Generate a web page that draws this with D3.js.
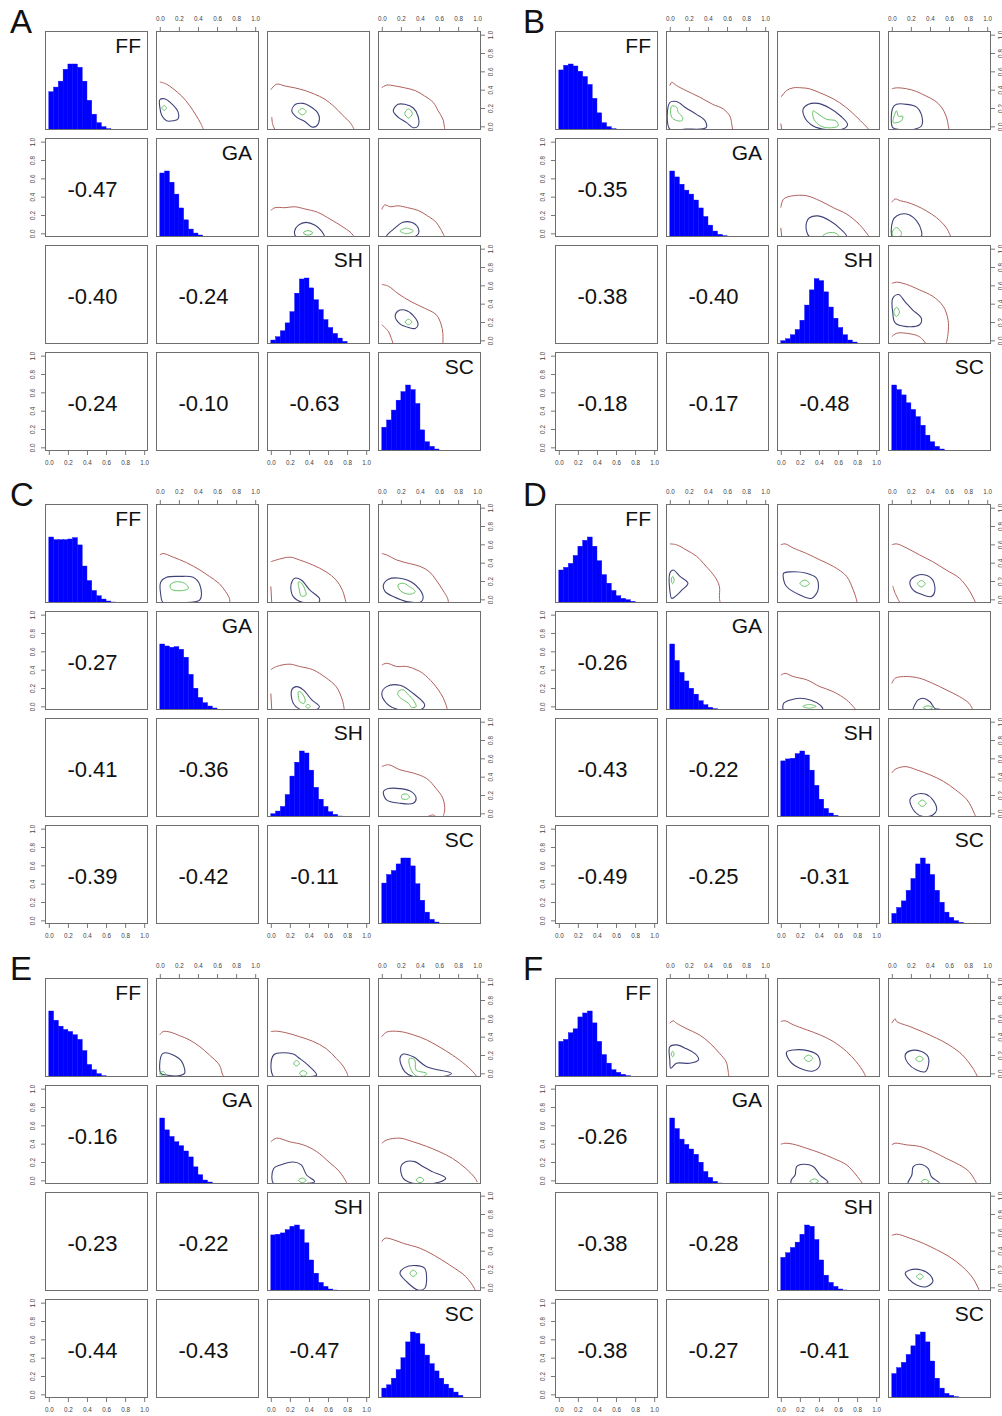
<!DOCTYPE html>
<html>
<head>
<meta charset="utf-8">
<script src="https://cdn.jsdelivr.net/npm/d3@7"></script>
<style>
  body { margin: 0; background: #fff; }
  svg { display: block; }
</style>
</head>
<body>
<svg id="chart" width="1002" height="1416"></svg>
<script>
// ---- data -------------------------------------------------------------
const panelLetters = ["A", "B", "C", "D", "E", "F"];
const variables = ["FF", "GA", "SH", "SC"];
const tickValues = [0, 0.2, 0.4, 0.6, 0.8, 1.0];
const binWidth = 0.05;

// correlations, lower triangle order: (GA,FF) (SH,FF) (SH,GA) (SC,FF) (SC,GA) (SC,SH)
const corrA = [-0.47, -0.40, -0.24, -0.24, -0.10, -0.63];
const corrB = [-0.35, -0.38, -0.40, -0.18, -0.17, -0.48];
const corrC = [-0.27, -0.41, -0.36, -0.39, -0.42, -0.11];
const corrD = [-0.26, -0.43, -0.22, -0.49, -0.25, -0.31];
const corrE = [-0.16, -0.23, -0.22, -0.44, -0.43, -0.47];
const corrF = [-0.26, -0.38, -0.28, -0.38, -0.27, -0.41];

// histogram heights relative to the tallest bin, bins of 0.05 from 0 to 1 (FF, GA, SH, SC)
const histA = [
  [0.58,0.65,0.74,0.92,1.0,1.0,0.95,0.74,0.45,0.24,0.11,0.05,0.02,0.01,0.01,0.01,0.005,0,0,0],
  [0.97,1.0,0.83,0.65,0.44,0.26,0.12,0.06,0.03,0.01,0.005,0,0,0,0,0,0,0,0,0],
  [0.06,0.11,0.2,0.32,0.49,0.77,0.985,1.0,0.85,0.67,0.52,0.37,0.25,0.16,0.09,0.04,0.01,0,0,0],
  [0.36,0.47,0.62,0.77,0.9,1.0,0.93,0.72,0.32,0.14,0.07,0.03,0.01,0,0,0,0,0,0,0]
];
const histB = [
  [0.91,0.98,1.0,0.97,0.89,0.81,0.69,0.48,0.26,0.11,0.05,0.02,0.005,0.005,0.005,0.005,0,0,0,0],
  [1.0,0.91,0.8,0.71,0.65,0.56,0.44,0.31,0.18,0.09,0.04,0.02,0.005,0,0,0,0,0,0,0],
  [0.05,0.08,0.14,0.22,0.36,0.59,0.82,0.99,0.96,0.79,0.56,0.39,0.25,0.14,0.06,0.03,0.01,0,0,0],
  [1.0,0.93,0.85,0.73,0.63,0.52,0.39,0.24,0.14,0.07,0.03,0.01,0,0,0,0,0,0,0,0]
];
const histC = [
  [1.0,0.96,0.96,0.96,0.97,0.99,0.88,0.56,0.34,0.19,0.11,0.06,0.03,0.015,0.01,0.01,0.005,0,0,0],
  [1.0,0.97,0.95,0.96,0.92,0.8,0.54,0.33,0.19,0.11,0.06,0.03,0.01,0.005,0.005,0,0,0,0,0],
  [0.05,0.09,0.16,0.34,0.62,0.83,1.0,0.97,0.71,0.45,0.27,0.16,0.08,0.04,0.015,0,0,0,0,0],
  [0.62,0.75,0.81,0.91,1.0,1.0,0.88,0.61,0.36,0.18,0.07,0.03,0.01,0,0,0,0,0,0,0]
];
const histD = [
  [0.5,0.54,0.6,0.72,0.86,0.95,1.0,0.86,0.64,0.43,0.3,0.19,0.11,0.07,0.05,0.025,0.01,0.005,0.005,0],
  [1.0,0.75,0.57,0.44,0.33,0.24,0.14,0.08,0.04,0.02,0.01,0,0,0,0,0,0,0,0,0],
  [0.85,0.88,0.89,0.96,1.0,0.94,0.71,0.48,0.27,0.13,0.06,0.025,0.01,0.005,0.005,0,0,0,0,0],
  [0.16,0.25,0.35,0.51,0.69,0.91,1.0,0.91,0.75,0.51,0.33,0.18,0.1,0.05,0.025,0.01,0,0,0,0]
];
const histE = [
  [1.0,0.86,0.77,0.72,0.69,0.64,0.57,0.4,0.19,0.11,0.05,0.02,0.01,0.005,0.005,0.005,0.005,0,0,0],
  [1.0,0.82,0.72,0.64,0.58,0.5,0.41,0.26,0.14,0.06,0.03,0.01,0.005,0.005,0,0,0,0,0,0],
  [0.85,0.86,0.88,0.93,0.98,1.0,0.93,0.73,0.47,0.27,0.13,0.07,0.03,0.015,0.005,0.005,0,0,0,0],
  [0.15,0.2,0.3,0.43,0.61,0.85,1.0,0.98,0.82,0.65,0.52,0.41,0.3,0.21,0.15,0.09,0.04,0.01,0.005,0.005]
];
const histF = [
  [0.54,0.57,0.67,0.73,0.91,0.97,1.0,0.82,0.54,0.34,0.21,0.11,0.07,0.04,0.02,0.01,0.005,0.005,0.005,0],
  [1.0,0.84,0.68,0.6,0.53,0.45,0.33,0.19,0.1,0.04,0.015,0.005,0.005,0,0,0,0,0,0,0],
  [0.51,0.58,0.66,0.74,0.86,1.0,0.98,0.78,0.47,0.24,0.13,0.07,0.03,0.015,0.005,0.005,0,0,0,0],
  [0.37,0.46,0.54,0.66,0.79,0.96,1.0,0.85,0.56,0.3,0.15,0.07,0.04,0.02,0.01,0.005,0.005,0,0,0]
];

// density contour lines: [row, col, level (0 outer, 1 middle, 2 inner), closed, x,y pairs]
const contoursA = [
  [0,1,0,0,[0,0.485, 0.07,0.46, 0.14,0.41, 0.23,0.33, 0.31,0.23, 0.38,0.12, 0.43,0.03, 0.46,-0.04]],
  [0,1,1,1,[0,0.29, 0.05,0.30, 0.12,0.25, 0.19,0.16, 0.19,0.08, 0.14,0.06, 0.07,0.06, 0.02,0.12, 0,0.21]],
  [0,1,2,1,[0.02,0.2, 0.045,0.225, 0.07,0.2, 0.045,0.175]],
  [0,2,0,0,[0,0.40, 0.06,0.46, 0.15,0.44, 0.25,0.42, 0.36,0.39, 0.46,0.35, 0.56,0.30, 0.67,0.21, 0.75,0.125, 0.84,0.03, 0.875,-0.04]],
  [0,2,0,0,[0.01,0.1, 0.02,0.02, 0.045,-0.04]],
  [0,2,1,1,[0.22,0.17, 0.26,0.24, 0.34,0.25, 0.41,0.22, 0.49,0.15, 0.51,0.08, 0.48,0.004, 0.43,-0.007, 0.36,0.05, 0.27,0.10]],
  [0,2,2,1,[0.29,0.16, 0.33,0.195, 0.37,0.16, 0.33,0.125]],
  [0,3,0,0,[0,0.42, 0.05,0.45, 0.14,0.44, 0.24,0.42, 0.35,0.39, 0.45,0.33, 0.54,0.26, 0.59,0.17, 0.64,0.08, 0.66,-0.04]],
  [0,3,1,1,[0.12,0.17, 0.17,0.24, 0.24,0.24, 0.33,0.20, 0.38,0.11, 0.38,0.004, 0.33,-0.015, 0.26,0.04, 0.17,0.1]],
  [0,3,2,1,[0.24,0.14, 0.28,0.19, 0.32,0.14, 0.28,0.09]],
  [1,2,0,0,[0,0.25, 0.045,0.28, 0.15,0.28, 0.25,0.29, 0.36,0.265, 0.49,0.23, 0.63,0.15, 0.74,0.08, 0.84,0.007, 0.875,-0.04]],
  [1,2,1,1,[0.25,0.026, 0.29,0.09, 0.37,0.12, 0.46,0.09, 0.53,0.026, 0.56,-0.04, 0.46,-0.045, 0.32,-0.045, 0.26,-0.03]],
  [1,2,2,1,[0.34,0.005, 0.39,0.03, 0.44,0.005, 0.39,-0.02]],
  [1,3,0,0,[0,0.26, 0.03,0.31, 0.09,0.29, 0.17,0.30, 0.27,0.28, 0.38,0.25, 0.48,0.19, 0.57,0.12, 0.62,0.04, 0.66,-0.04]],
  [1,3,1,1,[0.05,-0.03, 0.14,0.06, 0.22,0.12, 0.31,0.12, 0.38,0.06, 0.38,-0.01, 0.31,-0.045, 0.21,-0.045, 0.07,-0.045]],
  [1,3,2,1,[0.19,0.026, 0.26,0.056, 0.33,0.026, 0.26,-0.004]],
  [2,3,0,0,[0,0.61, 0.07,0.59, 0.17,0.51, 0.31,0.42, 0.45,0.35, 0.57,0.28, 0.62,0.18, 0.64,0.077, 0.64,-0.04]],
  [2,3,0,0,[0,0.17, 0.07,0.095, 0.1,0.02, 0.12,-0.04]],
  [2,3,1,1,[0.14,0.26, 0.17,0.32, 0.24,0.33, 0.33,0.27, 0.38,0.17, 0.35,0.13, 0.28,0.14, 0.19,0.18]],
  [2,3,2,1,[0.245,0.2, 0.28,0.23, 0.315,0.2, 0.28,0.17]]
];
const contoursB = [
  [0,1,0,0,[0,0.445, 0.02,0.48, 0.07,0.445, 0.17,0.39, 0.31,0.32, 0.45,0.24, 0.56,0.19, 0.63,0.11, 0.65,0.02, 0.66,-0.04]],
  [0,1,1,1,[0,0.26, 0.07,0.27, 0.17,0.2, 0.28,0.13, 0.37,0.06, 0.38,-0.015, 0.17,-0.03, 0,-0.03]],
  [0,1,2,1,[0.02,0.22, 0.07,0.21, 0.09,0.15, 0.135,0.096, 0.125,0.06, 0.055,0.07, 0.014,0.114]],
  [0,2,0,0,[0,0.32, 0.01,0.33, 0.06,0.39, 0.13,0.42, 0.22,0.42, 0.3,0.41, 0.4,0.37, 0.55,0.3, 0.68,0.21, 0.82,0.077, 0.93,-0.04]],
  [0,2,0,0,[0,0.03, 0.01,-0.04]],
  [0,2,1,1,[0.235,0.19, 0.29,0.24, 0.39,0.25, 0.51,0.2, 0.63,0.11, 0.7,0.02, 0.65,-0.03, 0.48,-0.035, 0.34,0.004, 0.25,0.096]],
  [0,2,2,1,[0.34,0.17, 0.37,0.15, 0.48,0.077, 0.58,0.059, 0.6,0.004, 0.48,-0.015, 0.39,0.022, 0.34,0.096]],
  [0,3,0,0,[0,0.41, 0.05,0.42, 0.155,0.41, 0.26,0.38, 0.36,0.33, 0.45,0.28, 0.52,0.21, 0.57,0.11, 0.6,-0.04]],
  [0,3,1,1,[0.01,0.2, 0.05,0.24, 0.155,0.24, 0.26,0.21, 0.31,0.13, 0.31,0.004, 0.22,-0.035, 0.085,-0.035, 0.01,-0.015]],
  [0,3,2,1,[0.015,0.077, 0.05,0.17, 0.07,0.11, 0.115,0.11, 0.1,0.06, 0.015,0.04]],
  [1,2,0,0,[0,0.28, 0.03,0.375, 0.13,0.41, 0.27,0.41, 0.41,0.355, 0.55,0.28, 0.69,0.21, 0.82,0.1, 0.93,-0.04]],
  [1,2,0,0,[0,0.06, 0.01,-0.04]],
  [1,2,1,1,[0.27,0.12, 0.3,0.17, 0.39,0.19, 0.51,0.14, 0.63,0.044, 0.69,-0.035, 0.48,-0.045, 0.3,-0.035, 0.27,0.026]],
  [1,2,2,1,[0.44,-0.03, 0.48,0.0, 0.56,0.007, 0.61,-0.03, 0.52,-0.05]],
  [1,3,0,0,[0,0.34, 0.035,0.375, 0.09,0.355, 0.155,0.34, 0.26,0.3, 0.36,0.246, 0.47,0.17, 0.57,0.063, 0.62,-0.04]],
  [1,3,1,1,[0.01,0.136, 0.05,0.19, 0.155,0.21, 0.26,0.136, 0.31,0.026, 0.31,-0.03, 0.155,-0.045, 0.01,-0.045]],
  [1,3,2,1,[0.01,0.026, 0.05,0.063, 0.1,0.007, 0.09,-0.03, 0.01,-0.03]],
  [2,3,0,0,[0,0.62, 0.05,0.635, 0.155,0.61, 0.29,0.55, 0.43,0.48, 0.54,0.37, 0.59,0.22, 0.59,0.077, 0.57,-0.04]],
  [2,3,0,0,[0,0.04, 0.05,0.077, 0.155,0.077, 0.29,0.04, 0.36,-0.04]],
  [2,3,1,1,[0.01,0.46, 0.07,0.5, 0.14,0.42, 0.22,0.33, 0.31,0.24, 0.29,0.17, 0.155,0.15, 0.035,0.19, 0.01,0.3]],
  [2,3,2,1,[0.02,0.31, 0.05,0.36, 0.08,0.31, 0.05,0.26]]
];
const contoursC = [
  [0,1,0,0,[0,0.485, 0.035,0.5, 0.14,0.46, 0.28,0.4, 0.42,0.32, 0.52,0.25, 0.62,0.175, 0.69,0.084, 0.73,0.01, 0.735,-0.04]],
  [0,1,1,1,[0.01,0.19, 0.07,0.24, 0.21,0.25, 0.35,0.24, 0.42,0.157, 0.42,-0.007, 0.21,-0.036, 0.036,-0.036, 0.01,0.047]],
  [0,1,2,1,[0.11,0.157, 0.16,0.19, 0.26,0.175, 0.3,0.12, 0.23,0.095, 0.12,0.11]],
  [0,2,0,0,[0,0.41, 0.06,0.43, 0.2,0.46, 0.3,0.43, 0.44,0.375, 0.58,0.3, 0.685,0.21, 0.75,0.1, 0.79,-0.04]],
  [0,2,0,0,[0,0.14, 0.01,-0.04]],
  [0,2,1,1,[0.22,0.19, 0.25,0.23, 0.32,0.21, 0.41,0.1, 0.51,0.01, 0.5,-0.036, 0.34,-0.036, 0.235,0.03, 0.21,0.12]],
  [0,2,2,1,[0.29,0.19, 0.32,0.18, 0.36,0.1, 0.37,0.047, 0.32,0.036, 0.3,0.1]],
  [0,3,0,0,[0,0.5, 0.05,0.485, 0.155,0.43, 0.29,0.39, 0.4,0.36, 0.5,0.3, 0.57,0.21, 0.64,0.1, 0.69,0.01, 0.7,-0.04]],
  [0,3,1,1,[0.017,0.157, 0.07,0.22, 0.19,0.23, 0.33,0.175, 0.43,0.047, 0.415,-0.025, 0.26,-0.025, 0.12,0.03, 0.035,0.084]],
  [0,3,2,1,[0.17,0.157, 0.225,0.175, 0.28,0.146, 0.35,0.084, 0.31,0.058, 0.24,0.066, 0.19,0.1]],
  [1,2,0,0,[0,0.4, 0.06,0.435, 0.2,0.46, 0.3,0.435, 0.44,0.4, 0.58,0.31, 0.685,0.215, 0.75,0.07, 0.77,-0.04]],
  [1,2,0,0,[0,0.14, 0.01,-0.04]],
  [1,2,1,1,[0.22,0.18, 0.27,0.215, 0.34,0.18, 0.43,0.07, 0.51,-0.004, 0.46,-0.04, 0.32,-0.04, 0.235,0.033]],
  [1,2,2,1,[0.29,0.16, 0.32,0.15, 0.36,0.07, 0.35,0.033, 0.305,0.05, 0.29,0.1]],
  [1,2,2,1,[0.365,0.0, 0.39,0.02, 0.415,0.0, 0.39,-0.02]],
  [1,3,0,0,[0,0.45, 0.05,0.47, 0.155,0.435, 0.26,0.435, 0.36,0.4, 0.43,0.36, 0.54,0.25, 0.64,0.1, 0.69,-0.04]],
  [1,3,1,1,[0,0.14, 0.05,0.215, 0.19,0.23, 0.33,0.14, 0.45,0.015, 0.4,-0.04, 0.19,-0.04, 0.05,0.033]],
  [1,3,2,1,[0.17,0.16, 0.225,0.18, 0.28,0.124, 0.33,0.07, 0.36,-0.004, 0.31,-0.01, 0.28,0.033, 0.2,0.088, 0.17,0.124]],
  [2,3,0,0,[0,0.51, 0.07,0.53, 0.19,0.475, 0.33,0.44, 0.47,0.38, 0.57,0.27, 0.64,0.164, 0.66,0.036, 0.64,-0.04]],
  [2,3,0,0,[0.47,-0.04, 0.54,-0.018, 0.57,-0.04]],
  [2,3,1,1,[0.017,0.237, 0.07,0.27, 0.19,0.27, 0.31,0.237, 0.36,0.164, 0.33,0.11, 0.19,0.11, 0.05,0.146]],
  [2,3,2,1,[0.21,0.2, 0.26,0.21, 0.29,0.18, 0.26,0.153, 0.21,0.164]]
];
const contoursD = [
  [0,1,0,0,[0,0.605, 0.07,0.595, 0.17,0.54, 0.28,0.47, 0.38,0.36, 0.47,0.25, 0.52,0.14, 0.52,0.01, 0.53,-0.04]],
  [0,1,1,1,[0,0.285, 0.035,0.32, 0.107,0.25, 0.19,0.175, 0.125,0.1, 0.055,0.03, 0.02,0.01, 0,0.1]],
  [0,1,2,1,[0.015,0.21, 0.03,0.25, 0.045,0.21, 0.03,0.17]],
  [0,2,0,0,[0,0.595, 0.045,0.605, 0.13,0.56, 0.27,0.5, 0.41,0.43, 0.55,0.36, 0.69,0.25, 0.76,0.1, 0.79,0.01, 0.8,-0.04]],
  [0,2,1,1,[0.03,0.285, 0.1,0.3, 0.27,0.285, 0.375,0.23, 0.39,0.1, 0.32,0.01, 0.2,0.047, 0.06,0.14, 0.03,0.21]],
  [0,2,2,1,[0.2,0.175, 0.25,0.21, 0.3,0.175, 0.25,0.14]],
  [0,3,0,0,[0,0.595, 0.05,0.605, 0.155,0.56, 0.29,0.485, 0.43,0.41, 0.57,0.32, 0.71,0.23, 0.81,0.1, 0.88,-0.04]],
  [0,3,0,0,[0.01,0.146, 0.035,0.066, 0.087,-0.04]],
  [0,3,1,1,[0.19,0.19, 0.24,0.25, 0.35,0.266, 0.43,0.21, 0.45,0.084, 0.415,0.03, 0.33,0.047, 0.225,0.1]],
  [0,3,2,1,[0.27,0.17, 0.31,0.205, 0.35,0.17, 0.31,0.135]],
  [1,2,0,0,[0,0.34, 0.045,0.36, 0.13,0.325, 0.27,0.29, 0.41,0.215, 0.55,0.16, 0.69,0.07, 0.76,-0.004, 0.79,-0.04]],
  [1,2,1,1,[0.03,0.033, 0.1,0.07, 0.2,0.088, 0.31,0.07, 0.41,0.015, 0.44,-0.033, 0.2,-0.047, 0.03,-0.04]],
  [1,2,2,1,[0.23,0, 0.3,0.02, 0.37,0, 0.3,-0.02]],
  [1,3,0,0,[0,0.25, 0.035,0.307, 0.155,0.325, 0.29,0.307, 0.43,0.25, 0.57,0.18, 0.71,0.106, 0.81,0.033, 0.85,-0.04]],
  [1,3,1,1,[0.225,-0.022, 0.276,0.07, 0.33,0.088, 0.4,0.05, 0.45,-0.022, 0.5,-0.033, 0.33,-0.045, 0.225,-0.035]],
  [1,3,2,1,[0.33,-0.015, 0.38,0.005, 0.43,-0.015, 0.38,-0.035]],
  [2,3,0,0,[0,0.44, 0.035,0.48, 0.14,0.51, 0.26,0.475, 0.4,0.42, 0.54,0.35, 0.67,0.255, 0.79,0.146, 0.865,0.0, 0.88,-0.04]],
  [2,3,1,1,[0.19,0.146, 0.24,0.2, 0.35,0.21, 0.43,0.146, 0.47,0.036, 0.43,-0.018, 0.33,-0.036, 0.24,0.018]],
  [2,3,2,1,[0.28,0.11, 0.32,0.145, 0.36,0.11, 0.32,0.075]]
];
const contoursE = [
  [0,1,0,0,[0,0.42, 0.035,0.456, 0.107,0.45, 0.21,0.41, 0.31,0.365, 0.42,0.29, 0.52,0.2, 0.625,0.09, 0.66,-0.018, 0.68,-0.04]],
  [0,1,1,1,[0.01,0.18, 0.035,0.22, 0.14,0.2, 0.23,0.128, 0.26,0.0, 0.21,-0.025, 0.07,-0.018, 0.01,0.0]],
  [0,1,2,1,[0,-0.005, 0.03,0.02, 0.06,-0.005, 0.03,-0.03]],
  [0,2,0,0,[0,0.456, 0.06,0.46, 0.17,0.44, 0.3,0.4, 0.44,0.35, 0.58,0.27, 0.685,0.164, 0.75,0.09, 0.8,0.0, 0.81,-0.04]],
  [0,2,1,1,[0.03,0.2, 0.235,0.21, 0.3,0.164, 0.39,0.09, 0.48,-0.018, 0.3,-0.036, 0.03,-0.036]],
  [0,2,2,1,[0.24,0.11, 0.27,0.14, 0.3,0.11, 0.27,0.08]],
  [0,2,2,1,[0.3,0, 0.34,0.03, 0.38,0, 0.34,-0.03]],
  [0,3,0,0,[0,0.4, 0.05,0.45, 0.19,0.456, 0.33,0.42, 0.47,0.365, 0.6,0.29, 0.74,0.2, 0.88,0.09, 0.97,0.0, 0.99,-0.03]],
  [0,3,1,1,[0.19,0.164, 0.225,0.21, 0.33,0.18, 0.47,0.073, 0.73,0.0, 0.64,-0.036, 0.33,-0.036, 0.24,0.018]],
  [0,3,2,1,[0.29,0.164, 0.345,0.146, 0.36,0.036, 0.47,0.0, 0.43,-0.036, 0.345,-0.018, 0.29,0.09]],
  [1,2,0,0,[0,0.42, 0.06,0.46, 0.2,0.42, 0.34,0.387, 0.48,0.314, 0.61,0.2, 0.72,0.095, 0.79,-0.015, 0.8,-0.04]],
  [1,2,1,1,[0.03,0.13, 0.1,0.168, 0.235,0.2, 0.32,0.168, 0.375,0.058, 0.46,-0.015, 0.3,-0.04, 0.03,-0.04]],
  [1,2,2,1,[0.29,0, 0.33,0.025, 0.37,0, 0.33,-0.025]],
  [1,3,0,0,[0,0.405, 0.05,0.44, 0.19,0.46, 0.33,0.42, 0.47,0.37, 0.6,0.314, 0.74,0.24, 0.88,0.13, 0.98,0.022, 1.0,-0.02]],
  [1,3,1,1,[0.2,0.15, 0.24,0.197, 0.345,0.204, 0.43,0.15, 0.53,0.095, 0.67,0.022, 0.6,-0.022, 0.36,-0.04, 0.225,0.022]],
  [1,3,2,1,[0.36,0.004, 0.4,0.034, 0.44,0.004, 0.4,-0.026]],
  [2,3,0,0,[0,0.5, 0.035,0.536, 0.12,0.52, 0.225,0.48, 0.4,0.427, 0.54,0.354, 0.71,0.245, 0.88,0.117, 0.97,-0.01, 0.98,-0.04]],
  [2,3,1,1,[0.19,0.153, 0.24,0.215, 0.36,0.237, 0.45,0.208, 0.47,0.1, 0.45,-0.01, 0.38,-0.03, 0.26,0.062]],
  [2,3,2,1,[0.295,0.153, 0.33,0.188, 0.365,0.153, 0.33,0.118]]
];
const contoursF = [
  [0,1,0,0,[0,0.547, 0.035,0.573, 0.07,0.547, 0.17,0.49, 0.31,0.42, 0.42,0.33, 0.52,0.22, 0.59,0.128, 0.61,0.036, 0.62,-0.047]],
  [0,1,1,1,[0,0.29, 0.07,0.31, 0.17,0.27, 0.28,0.2, 0.3,0.146, 0.21,0.11, 0.07,0.11, 0.01,0.055, 0,0.146]],
  [0,1,2,1,[0.015,0.21, 0.03,0.24, 0.045,0.21, 0.03,0.18]],
  [0,2,0,0,[0,0.566, 0.045,0.573, 0.13,0.53, 0.27,0.475, 0.41,0.42, 0.55,0.347, 0.69,0.237, 0.79,0.128, 0.875,0.0, 0.89,-0.04]],
  [0,2,1,1,[0.06,0.23, 0.13,0.255, 0.29,0.245, 0.39,0.193, 0.41,0.09, 0.34,0.025, 0.2,0.055, 0.1,0.128]],
  [0,2,2,1,[0.245,0.164, 0.29,0.199, 0.335,0.164, 0.29,0.129]],
  [0,3,0,0,[0,0.547, 0.035,0.595, 0.05,0.566, 0.19,0.51, 0.33,0.45, 0.47,0.383, 0.6,0.31, 0.74,0.2, 0.85,0.055, 0.9,-0.04]],
  [0,3,1,1,[0.14,0.2, 0.19,0.245, 0.31,0.237, 0.38,0.18, 0.38,0.073, 0.35,0.018, 0.26,0.036, 0.17,0.11]],
  [0,3,2,1,[0.25,0.157, 0.29,0.187, 0.33,0.157, 0.29,0.127]],
  [1,2,0,0,[0,0.394, 0.045,0.405, 0.13,0.394, 0.27,0.35, 0.41,0.3, 0.55,0.24, 0.69,0.168, 0.79,0.058, 0.86,-0.04]],
  [1,2,1,1,[0.11,0.004, 0.15,0.058, 0.166,0.15, 0.235,0.175, 0.34,0.15, 0.41,0.058, 0.495,-0.022, 0.27,-0.04, 0.11,-0.035]],
  [1,2,2,1,[0.305,-0.01, 0.35,0.015, 0.395,-0.01, 0.35,-0.035]],
  [1,3,0,0,[0,0.387, 0.035,0.405, 0.155,0.387, 0.29,0.37, 0.43,0.314, 0.57,0.24, 0.71,0.168, 0.81,0.095, 0.88,-0.015, 0.89,-0.04]],
  [1,3,1,1,[0.17,-0.022, 0.21,0.058, 0.225,0.15, 0.29,0.175, 0.38,0.13, 0.415,0.04, 0.5,-0.033, 0.33,-0.044, 0.17,-0.044]],
  [1,3,2,1,[0.31,-0.015, 0.35,0.01, 0.39,-0.015, 0.35,-0.04]],
  [2,3,0,0,[0,0.566, 0.05,0.58, 0.19,0.536, 0.33,0.48, 0.47,0.41, 0.6,0.336, 0.74,0.226, 0.85,0.1, 0.92,-0.04]],
  [2,3,1,1,[0.14,0.153, 0.19,0.19, 0.31,0.19, 0.4,0.135, 0.43,0.062, 0.36,0.007, 0.26,0.025, 0.17,0.1]],
  [2,3,2,1,[0.26,0.117, 0.295,0.147, 0.33,0.117, 0.295,0.087]]
];

const correlations = [corrA, corrB, corrC, corrD, corrE, corrF];
const histograms = [histA, histB, histC, histD, histE, histF];
const contourSets = [contoursA, contoursB, contoursC, contoursD, contoursE, contoursF];

// ---- layout -----------------------------------------------------------
const cellW = 103, cellH = 99, colStep = 111, rowStep = 107;
const panelX = [45, 555];
const panelY = [31, 504, 978];
const letterX = [10, 523];
const contourColors = ["#b0605c", "#3e4278", "#66c466"];
const font = "'Liberation Sans', Arial, Helvetica, sans-serif";

const svg = d3.select("#chart");
const defs = svg.append("defs");
defs.append("clipPath").attr("id", "cell-clip")
  .append("rect").attr("x", 0).attr("y", 0).attr("width", cellW).attr("height", cellH);

// usual 4% padding around the unit range
const x = d3.scaleLinear().domain([-0.04, 1.04]).range([0, cellW]);
const y = d3.scaleLinear().domain([-0.04, 1.04]).range([cellH, 0]);
const yHist = d3.scaleLinear().domain([0, 1.5]).range([cellH, 0]);
const fmt = d3.format(".1f");

function pairsOf(flat) {
  const out = [];
  for (let i = 0; i < flat.length; i += 2) out.push([flat[i], flat[i + 1]]);
  return out;
}
const openLine = d3.line().x(d => x(d[0])).y(d => y(d[1])).curve(d3.curveCatmullRom.alpha(0.5));
const closedLine = d3.line().x(d => x(d[0])).y(d => y(d[1])).curve(d3.curveCatmullRomClosed.alpha(0.5));

function fmt2(v) {
  return d3.format(".2f")(v).replace("\u2212", "-");
}

function styleAxis(g) {
  g.select(".domain").remove();
  g.selectAll(".tick line").attr("stroke", "#555").attr("stroke-width", 0.8);
  g.selectAll(".tick text")
    .attr("fill", "#444")
    .style("font-family", font)
    .style("font-size", "6.3px");
}

panelLetters.forEach((letter, p) => {
  const ox = panelX[p % 2];
  const oy = panelY[Math.floor(p / 2)];
  const panel = svg.append("g").attr("transform", `translate(${ox},${oy})`);

  panel.append("text")
    .attr("x", letterX[p % 2] - ox)
    .attr("y", 2)
    .style("font-family", font)
    .style("font-size", "33px")
    .attr("fill", "#111")
    .text(letter);

  const hist = histograms[p];
  const corr = correlations[p];
  const contours = contourSets[p];

  for (let r = 0; r < 4; r++) {
    for (let c = 0; c < 4; c++) {
      const cell = panel.append("g")
        .attr("transform", `translate(${c * colStep},${r * rowStep})`);
      const inner = cell.append("g").attr("clip-path", "url(#cell-clip)");

      if (r === c) {
        // histogram on the diagonal
        inner.selectAll("rect.bar")
          .data(hist[r].map((v, i) => ({ i, v })).filter(d => d.v > 0))
          .join("rect")
          .attr("class", "bar")
          .attr("x", d => x(d.i * binWidth))
          .attr("width", x(binWidth) - x(0))
          .attr("y", d => yHist(d.v))
          .attr("height", d => cellH - yHist(d.v))
          .attr("fill", "#0000ff")
          .attr("stroke", "#0000ff")
          .attr("stroke-width", 0.4);
        cell.append("text")
          .attr("x", cellW - 7)
          .attr("y", 22)
          .attr("text-anchor", "end")
          .style("font-family", font)
          .style("font-size", "21px")
          .attr("fill", "#111")
          .text(variables[r]);
      } else if (r > c) {
        // correlation coefficient below the diagonal
        const k = r * (r - 1) / 2 + c;
        cell.append("text")
          .attr("x", cellW / 2 - 4)
          .attr("y", cellH / 2 + 9)
          .attr("text-anchor", "middle")
          .style("font-family", font)
          .style("font-size", "22px")
          .attr("fill", "#111")
          .text(fmt2(corr[k]));
      } else {
        // density contours above the diagonal
        contours.filter(d => d[0] === r && d[1] === c).forEach(d => {
          const pts = pairsOf(d[4]);
          inner.append("path")
            .attr("d", d[3] ? closedLine(pts) : openLine(pts))
            .attr("fill", "none")
            .attr("stroke", contourColors[d[2]])
            .attr("stroke-width", d[2] === 1 ? 1.1 : 1);
        });
      }

      cell.append("rect")
        .attr("x", 0.5).attr("y", 0.5)
        .attr("width", cellW - 1).attr("height", cellH - 1)
        .attr("fill", "none")
        .attr("stroke", "#6e6e6e")
        .attr("stroke-width", 1);

      // axes around the matrix, alternating sides
      if (r === 0 && c % 2 === 1) {
        const g = cell.append("g").call(d3.axisTop(x).tickValues(tickValues).tickFormat(fmt).tickSize(4).tickSizeOuter(0));
        styleAxis(g);
        g.selectAll(".tick text").attr("y", -10).attr("dy", null);
      }
      if (r === 3 && c % 2 === 0) {
        const g = cell.append("g").attr("transform", `translate(0,${cellH})`)
          .call(d3.axisBottom(x).tickValues(tickValues).tickFormat(fmt).tickSize(4).tickSizeOuter(0));
        styleAxis(g);
        g.selectAll(".tick text").attr("y", 14).attr("dy", null);
      }
      if (c === 0 && r % 2 === 1) {
        const g = cell.append("g")
          .call(d3.axisLeft(y).tickValues(tickValues).tickFormat(fmt).tickSize(4).tickSizeOuter(0));
        styleAxis(g);
        g.selectAll(".tick text")
          .attr("transform", "rotate(-90)")
          .attr("x", 0).attr("y", -10).attr("dy", null)
          .attr("text-anchor", "middle");
      }
      if (c === 3 && r % 2 === 0) {
        const g = cell.append("g").attr("transform", `translate(${cellW},0)`)
          .call(d3.axisRight(y).tickValues(tickValues).tickFormat(fmt).tickSize(4).tickSizeOuter(0));
        styleAxis(g);
        g.selectAll(".tick text")
          .attr("transform", "rotate(-90)")
          .attr("x", 0).attr("y", 11.5).attr("dy", null)
          .attr("text-anchor", "middle");
      }
    }
  }
});
</script>
</body>
</html>
